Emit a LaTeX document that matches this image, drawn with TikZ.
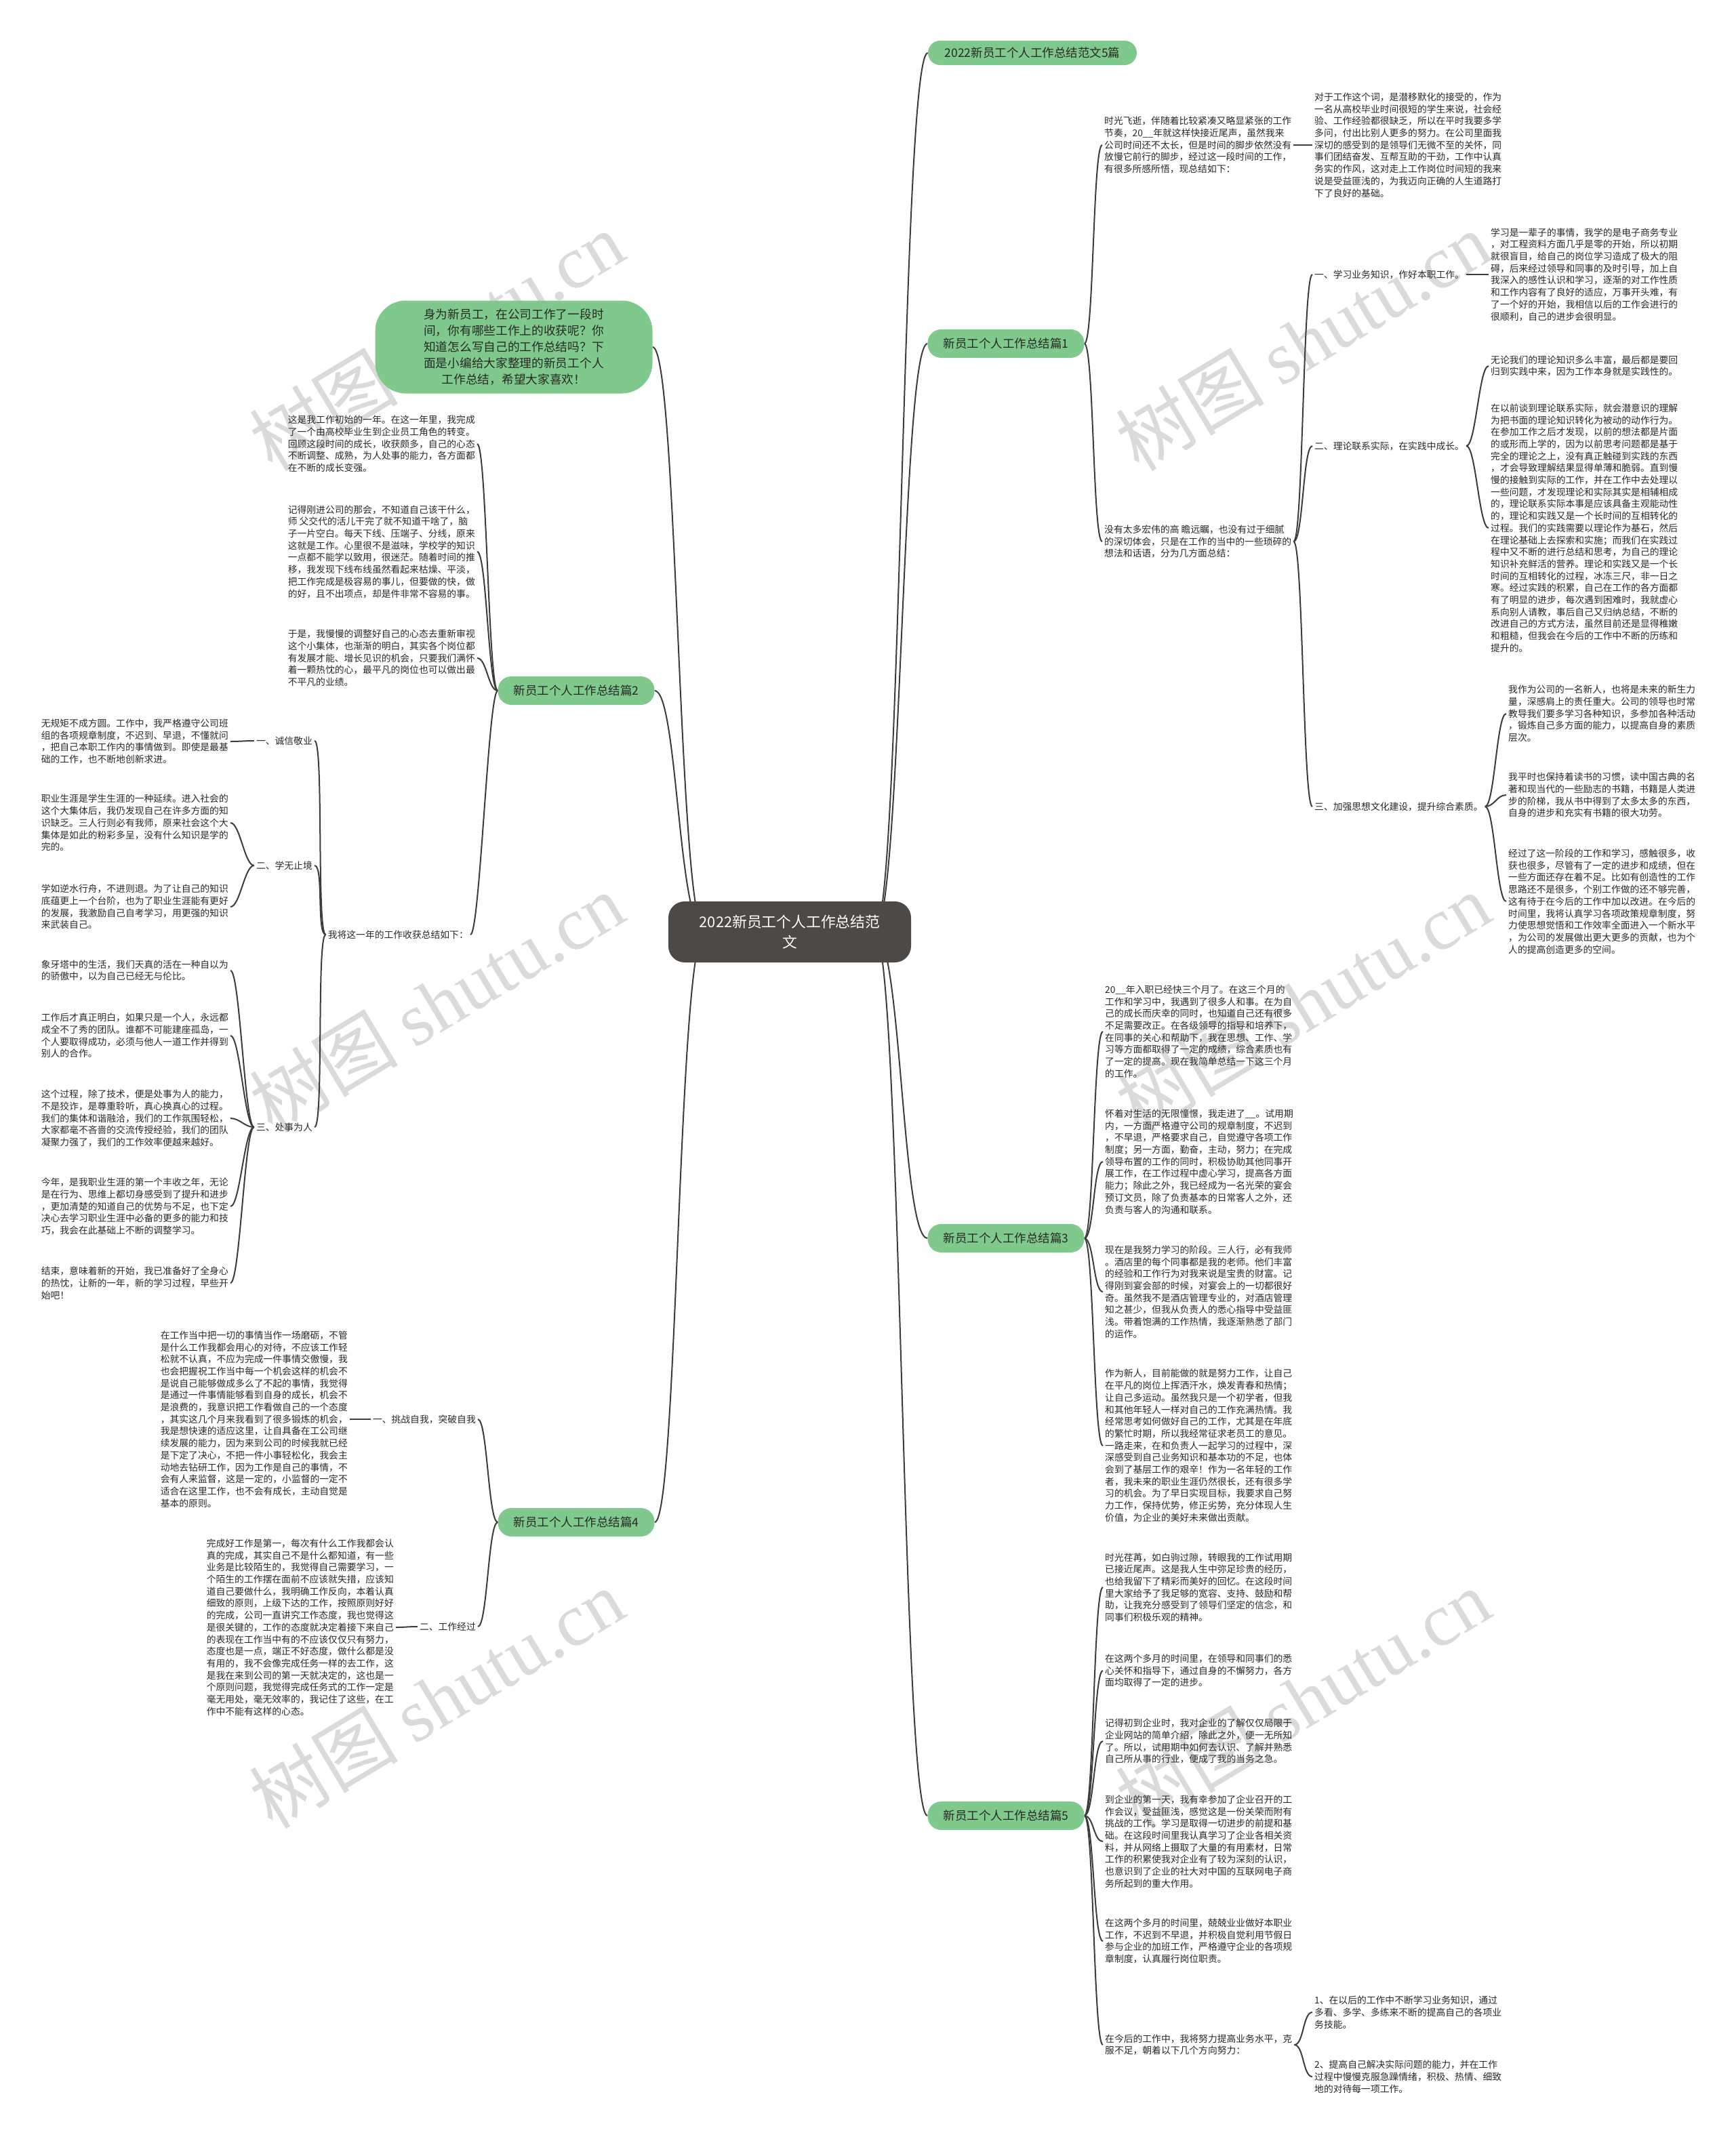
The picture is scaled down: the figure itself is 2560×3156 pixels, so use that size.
\documentclass[tikz,border=0pt]{standalone}
\usepackage{fontspec}
\setmainfont{Noto Sans CJK SC}
\newfontfamily\wmlatin{Liberation Serif}
\definecolor{gr}{RGB}{128,201,141}
\definecolor{dk}{RGB}{77,73,70}
\definecolor{tx}{RGB}{40,40,40}
\definecolor{ln}{RGB}{60,60,60}
\definecolor{wmc}{RGB}{218,218,218}
\pgfdeclarelayer{wm}
\pgfdeclarelayer{bg}
\pgfsetlayers{wm,bg,main}
\newcommand\conR[3][14]{\draw[conn] (#2.east) .. controls +(#1,0) and +(-#1,0) .. (#3.west);}
\newcommand\conL[3][14]{\draw[conn] (#2.west) .. controls +(-#1,0) and +(#1,0) .. (#3.east);}
\begin{document}
\begin{tikzpicture}[x=1pt,y=-1pt,
  txt/.style={font=\fontsize{13.8pt}{17.7pt}\selectfont, align=left, text=tx, inner sep=3pt},
  branch/.style={fill=gr, rounded corners=20pt, minimum height=42pt, minimum width=231pt, inner sep=0pt, font=\fontsize{17.5pt}{22pt}\selectfont, text=tx},
  rootbox/.style={fill=dk, rounded corners=24pt, minimum height=90pt, minimum width=358pt, inner sep=0pt, align=center, font=\fontsize{21.8pt}{30pt}\selectfont, text=white},
  conn/.style={draw=ln, line width=2pt},
  wmark/.style={rotate=31, text=wmc, font=\fontsize{110pt}{110pt}\selectfont, inner sep=0pt}]
\useasboundingbox (0,0) rectangle (2560,3156);
\begin{pgfonlayer}{wm}
\fill[white] (0,0) rectangle (2560,3156);
\foreach \wx/\wy in {644/503, 1922/503, 644/1479, 1922/1479, 644/2506, 1922/2506}
  \node[wmark] at (\wx,\wy) {树图 {\wmlatin shutu.cn}};
\end{pgfonlayer}

% root and branches
\node[rootbox] (root) at (1165,1375) {2022新员工个人工作总结范\\文};
\node[branch, minimum width=308pt, minimum height=36pt, rounded corners=18pt] (ttl) at (1523,78) {2022新员工个人工作总结范文5篇};
\node[branch, minimum width=409pt, minimum height=137pt, rounded corners=45pt, align=center, font=\fontsize{17.7pt}{24pt}\selectfont] (intro) at (758,512) {身为新员工，在公司工作了一段时\\间，你有哪些工作上的收获呢？你\\知道怎么写自己的工作总结吗？下\\面是小编给大家整理的新员工个人\\工作总结，希望大家喜欢！};
\node[branch] (p1) at (1484,507) {新员工个人工作总结篇1};
\node[branch] (p2) at (850,1019) {新员工个人工作总结篇2};
\node[branch] (p3) at (1484,1827) {新员工个人工作总结篇3};
\node[branch] (p4) at (850,2246) {新员工个人工作总结篇4};
\node[branch] (p5) at (1484,2679) {新员工个人工作总结篇5};

% ---------- 篇1 ----------
\node[txt, anchor=west] (p1t1) at (1626,214) {时光飞逝，伴随着比较紧凑又略显紧张的工作\\节奏，20\_\_年就这样快接近尾声，虽然我来\\公司时间还不太长，但是时间的脚步依然没有\\放慢它前行的脚步，经过这一段时间的工作，\\有很多所感所悟，现总结如下：};
\node[txt, anchor=west] (p1t1a) at (1936,214) {对于工作这个词，是潜移默化的接受的，作为\\一名从高校毕业时间很短的学生来说，社会经\\验、工作经验都很缺乏，所以在平时我要多学\\多问，付出比别人更多的努力。在公司里面我\\深切的感受到的是领导们无微不至的关怀，同\\事们团结奋发、互帮互助的干劲，工作中认真\\务实的作风，这对走上工作岗位时间短的我来\\说是受益匪浅的，为我迈向正确的人生道路打\\下了良好的基础。};
\node[txt, anchor=west] (p1t2) at (1626,799) {没有太多宏伟的高 瞻远瞩，也没有过于细腻\\的深切体会，只是在工作的当中的一些琐碎的\\想法和话语，分为几方面总结：};
\node[txt, anchor=west] (p1l1) at (1936,405) {一、学习业务知识，作好本职工作。};
\node[txt, anchor=west] (p1l1t) at (2196,405) {学习是一辈子的事情，我学的是电子商务专业\\，对工程资料方面几乎是零的开始，所以初期\\就很盲目，给自己的岗位学习造成了极大的阻\\碍，后来经过领导和同事的及时引导，加上自\\我深入的感性认识和学习，逐渐的对工作性质\\和工作内容有了良好的适应，万事开头难，有\\了一个好的开始，我相信以后的工作会进行的\\很顺利，自己的进步会很明显。};
\node[txt, anchor=west] (p1l2) at (1936,658) {二、理论联系实际，在实践中成长。};
\node[txt, anchor=west] (p1l2a) at (2196,540) {无论我们的理论知识多么丰富，最后都是要回\\归到实践中来，因为工作本身就是实践性的。};
\node[txt, anchor=west] (p1l2b) at (2196,779) {在以前谈到理论联系实际，就会潜意识的理解\\为把书面的理论知识转化为被动的动作行为。\\在参加工作之后才发现，以前的想法都是片面\\的或形而上学的，因为以前思考问题都是基于\\完全的理论之上，没有真正触碰到实践的东西\\，才会导致理解结果显得单薄和脆弱。直到慢\\慢的接触到实际的工作，并在工作中去处理以\\一些问题，才发现理论和实际其实是相辅相成\\的，理论联系实际本事是应该具备主观能动性\\的，理论和实践又是一个长时间的互相转化的\\过程。我们的实践需要以理论作为基石，然后\\在理论基础上去探索和实施；而我们在实践过\\程中又不断的进行总结和思考，为自己的理论\\知识补充鲜活的营养。理论和实践又是一个长\\时间的互相转化的过程，冰冻三尺，非一日之\\寒。经过实践的积累，自己在工作的各方面都\\有了明显的进步，每次遇到困难时，我就虚心\\系向别人请教，事后自己又归纳总结，不断的\\改进自己的方式方法，虽然目前还是显得稚嫩\\和粗糙，但我会在今后的工作中不断的历练和\\提升的。};
\node[txt, anchor=west] (p1l3) at (1936,1190) {三、加强思想文化建设，提升综合素质。};
\node[txt, anchor=west] (p1l3a) at (2222,1053) {我作为公司的一名新人，也将是未来的新生力\\量，深感肩上的责任重大。公司的领导也时常\\教导我们要多学习各种知识，多参加各种活动\\，锻炼自己多方面的能力，以提高自身的素质\\层次。};
\node[txt, anchor=west] (p1l3b) at (2222,1173) {我平时也保持着读书的习惯，读中国古典的名\\著和现当代的一些励志的书籍，书籍是人类进\\步的阶梯，我从书中得到了太多太多的东西，\\自身的进步和充实有书籍的很大功劳。};
\node[txt, anchor=west] (p1l3c) at (2222,1330) {经过了这一阶段的工作和学习，感触很多，收\\获也很多，尽管有了一定的进步和成绩，但在\\一些方面还存在着不足。比如有创造性的工作\\思路还不是很多，个别工作做的还不够完善，\\这有待于在今后的工作中加以改进。在今后的\\时间里，我将认真学习各项政策规章制度，努\\力使思想觉悟和工作效率全面进入一个新水平\\，为公司的发展做出更大更多的贡献，也为个\\人的提高创造更多的空间。};

% ---------- 篇2 ----------
\node[txt, anchor=east] (p2b1) at (704,655) {这是我工作初始的一年。在这一年里，我完成\\了一个由高校毕业生到企业员工角色的转变。\\回顾这段时间的成长，收获颇多，自己的心态\\不断调整、成熟，为人处事的能力，各方面都\\在不断的成长变强。};
\node[txt, anchor=east] (p2b2) at (704,814) {记得刚进公司的那会，不知道自己该干什么，\\师 父交代的活儿干完了就不知道干啥了，脑\\子一片空白。每天下线、压端子、分线，原来\\这就是工作。心里很不是滋味，学校学的知识\\一点都不能学以致用，很迷茫。随着时间的推\\移，我发现下线布线虽然看起来枯燥、平淡，\\把工作完成是极容易的事儿，但要做的快，做\\的好，且不出项点，却是件非常不容易的事。};
\node[txt, anchor=east] (p2b3) at (704,971) {于是，我慢慢的调整好自己的心态去重新审视\\这个小集体，也渐渐的明白，其实各个岗位都\\有发展才能、增长见识的机会，只要我们满怀\\着一颗热忱的心，最平凡的岗位也可以做出最\\不平凡的业绩。};
\node[txt, anchor=east] (p2l) at (694,1379) {我将这一年的工作收获总结如下：};
\node[txt, anchor=east] (p2l1) at (464,1093) {一、诚信敬业};
\node[txt, anchor=east] (p2l1t) at (340,1094) {无规矩不成方圆。工作中，我严格遵守公司班\\组的各项规章制度，不迟到、早退，不懂就问\\，把自己本职工作内的事情做到。即使是最基\\础的工作，也不断地创新求进。};
\node[txt, anchor=east] (p2l2) at (464,1277) {二、学无止境};
\node[txt, anchor=east] (p2l2a) at (340,1214) {职业生涯是学生生涯的一种延续。进入社会的\\这个大集体后，我仍发现自己在许多方面的知\\识缺乏。三人行则必有我师，原来社会这个大\\集体是如此的粉彩多呈，没有什么知识是学的\\完的。};
\node[txt, anchor=east] (p2l2b) at (340,1338) {学如逆水行舟，不进则退。为了让自己的知识\\底蕴更上一个台阶，也为了职业生涯能有更好\\的发展，我激励自己自考学习，用更强的知识\\来武装自己。};
\node[txt, anchor=east] (p2l3) at (464,1663) {三、处事为人};
\node[txt, anchor=east] (p2l3a) at (340,1432) {象牙塔中的生活，我们天真的活在一种自以为\\的骄傲中，以为自己已经无与伦比。};
\node[txt, anchor=east] (p2l3b) at (340,1528) {工作后才真正明白，如果只是一个人，永远都\\成全不了秀的团队。谁都不可能建座孤岛，一\\个人要取得成功，必须与他人一道工作并得到\\别人的合作。};
\node[txt, anchor=east] (p2l3c) at (340,1650) {这个过程，除了技术，便是处事为人的能力，\\不是狡诈，是尊重聆听，真心换真心的过程。\\我们的集体和谐融洽，我们的工作氛围轻松，\\大家都毫不吝啬的交流传授经验，我们的团队\\凝聚力强了，我们的工作效率便越来越好。};
\node[txt, anchor=east] (p2l3d) at (340,1780) {今年，是我职业生涯的第一个丰收之年，无论\\是在行为、思维上都切身感受到了提升和进步\\，更加清楚的知道自己的优势与不足，也下定\\决心去学习职业生涯中必备的更多的能力和技\\巧，我会在此基础上不断的调整学习。};
\node[txt, anchor=east] (p2l3e) at (340,1893) {结束，意味着新的开始，我已准备好了全身心\\的热忱，让新的一年，新的学习过程，早些开\\始吧！};

% ---------- 篇3 ----------
\node[txt, anchor=west] (p3a) at (1627,1522) {20\_\_年入职已经快三个月了。在这三个月的\\工作和学习中，我遇到了很多人和事。在为自\\己的成长而庆幸的同时，也知道自己还有很多\\不足需要改正。在各级领导的指导和培养下，\\在同事的关心和帮助下，我在思想、工作、学\\习等方面都取得了一定的成绩，综合素质也有\\了一定的提高。现在我简单总结一下这三个月\\的工作。};
\node[txt, anchor=west] (p3b) at (1627,1714) {怀着对生活的无限憧憬，我走进了\_\_。试用期\\内，一方面严格遵守公司的规章制度，不迟到\\，不早退，严格要求自己，自觉遵守各项工作\\制度；另一方面，勤奋，主动，努力；在完成\\领导布置的工作的同时，积极协助其他同事开\\展工作，在工作过程中虚心学习，提高各方面\\能力；除此之外，我已经成为一名光荣的宴会\\预订文员，除了负责基本的日常客人之外，还\\负责与客人的沟通和联系。};
\node[txt, anchor=west] (p3c) at (1627,1906) {现在是我努力学习的阶段。三人行，必有我师\\。酒店里的每个同事都是我的老师。他们丰富\\的经验和工作行为对我来说是宝贵的财富。记\\得刚到宴会部的时候，对宴会上的一切都很好\\奇。虽然我不是酒店管理专业的，对酒店管理\\知之甚少，但我从负责人的悉心指导中受益匪\\浅。带着饱满的工作热情，我逐渐熟悉了部门\\的运作。};
\node[txt, anchor=west] (p3d) at (1627,2133) {作为新人，目前能做的就是努力工作，让自己\\在平凡的岗位上挥洒汗水，焕发青春和热情；\\让自己多运动。虽然我只是一个初学者，但我\\和其他年轻人一样对自己的工作充满热情。我\\经常思考如何做好自己的工作，尤其是在年底\\的繁忙时期，所以我经常征求老员工的意见。\\一路走来，在和负责人一起学习的过程中，深\\深感受到自己业务知识和基本功的不足，也体\\会到了基层工作的艰辛！作为一名年轻的工作\\者，我未来的职业生涯仍然很长，还有很多学\\习的机会。为了早日实现目标，我要求自己努\\力工作，保持优势，修正劣势，充分体现人生\\价值，为企业的美好未来做出贡献。};

% ---------- 篇4 ----------
\node[txt, anchor=east] (p4l1) at (705,2094) {一、挑战自我，突破自我};
\node[txt, anchor=east] (p4l1t) at (516,2094) {在工作当中把一切的事情当作一场磨砺，不管\\是什么工作我都会用心的对待，不应该工作轻\\松就不认真，不应为完成一件事情交傲慢，我\\也会把握祝工作当中每一个机会这样的机会不\\是说自己能够做成多么了不起的事情，我觉得\\是通过一件事情能够看到自身的成长，机会不\\是浪费的，我意识把工作看做自己的一个态度\\，其实这几个月来我看到了很多锻炼的机会，\\我是想快速的适应这里，让自具备在工公司继\\续发展的能力，因为来到公司的时候我就已经\\是下定了决心，不把一件小事轻松化，我会主\\动地去钻研工作，因为工作是自己的事情，不\\会有人来监督，这是一定的，小监督的一定不\\适合在这里工作，也不会有成长，主动自觉是\\基本的原则。};
\node[txt, anchor=east] (p4l2) at (705,2400) {二、工作经过};
\node[txt, anchor=east] (p4l2t) at (584,2401) {完成好工作是第一，每次有什么工作我都会认\\真的完成，其实自己不是什么都知道，有一些\\业务是比较陌生的，我觉得自己需要学习，一\\个陌生的工作摆在面前不应该就失措，应该知\\道自己要做什么，我明确工作反向，本着认真\\细致的原则，上级下达的工作，按照原则好好\\的完成，公司一直讲究工作态度，我也觉得这\\是很关键的，工作的态度就决定着接下来自己\\的表现在工作当中有的不应该仅仅只有努力，\\态度也是一点，端正不好态度，做什么都是没\\有用的，我不会像完成任务一样的去工作，这\\是我在来到公司的第一天就决定的，这也是一\\个原则问题，我觉得完成任务式的工作一定是\\毫无用处，毫无效率的，我记住了这些，在工\\作中不能有这样的心态。};

% ---------- 篇5 ----------
\node[txt, anchor=west] (p5a) at (1627,2342) {时光荏苒，如白驹过隙，转眼我的工作试用期\\已接近尾声。这是我人生中弥足珍贵的经历，\\也给我留下了精彩而美好的回忆。在这段时间\\里大家给予了我足够的宽容、支持、鼓励和帮\\助，让我充分感受到了领导们坚定的信念，和\\同事们积极乐观的精神。};
\node[txt, anchor=west] (p5b) at (1627,2465) {在这两个多月的时间里，在领导和同事们的悉\\心关怀和指导下，通过自身的不懈努力，各方\\面均取得了一定的进步。};
\node[txt, anchor=west] (p5c) at (1627,2569) {记得初到企业时，我对企业的了解仅仅局限于\\企业网站的简单介绍，除此之外，便一无所知\\了。所以，试用期中如何去认识、了解并熟悉\\自己所从事的行业，便成了我的当务之急。};
\node[txt, anchor=west] (p5d) at (1627,2717) {到企业的第一天，我有幸参加了企业召开的工\\作会议，受益匪浅，感觉这是一份关荣而附有\\挑战的工作。学习是取得一切进步的前提和基\\础。在这段时间里我认真学习了企业各相关资\\料，并从网络上摄取了大量的有用素材，日常\\工作的积累使我对企业有了较为深刻的认识，\\也意识到了企业的社大对中国的互联网电子商\\务所起到的重大作用。};
\node[txt, anchor=west] (p5e) at (1627,2864) {在这两个多月的时间里，兢兢业业做好本职业\\工作，不迟到不早退，并积极自觉利用节假日\\参与企业的加班工作，严格遵守企业的各项规\\章制度，认真履行岗位职责。};
\node[txt, anchor=west] (p5f) at (1627,3017) {在今后的工作中，我将努力提高业务水平，克\\服不足，朝着以下几个方向努力：};
\node[txt, anchor=west] (p5f1) at (1936,2969) {1、在以后的工作中不断学习业务知识，通过\\多看、多学、多练来不断的提高自己的各项业\\务技能。};
\node[txt, anchor=west] (p5f2) at (1936,3064) {2、提高自己解决实际问题的能力，并在工作\\过程中慢慢克服急躁情绪，积极、热情、细致\\地的对待每一项工作。};

% ---------- connectors ----------
\begin{pgfonlayer}{bg}
\foreach \b in {ttl,p1,p3,p5}
  \draw[conn] (1290,1375) .. controls (1330,1375) and (1330,0 |- \b.west) .. (\b.west);
\foreach \b in {intro,p2,p4}
  \draw[conn] (1040,1375) .. controls (1000,1375) and (1000,0 |- \b.east) .. (\b.east);
\conR{p1}{p1t1} \conR{p1}{p1t2}
\conR{p1t1}{p1t1a}
\conR{p1t2}{p1l1} \conR{p1t2}{p1l2} \conR{p1t2}{p1l3}
\conR{p1l1}{p1l1t}
\conR{p1l2}{p1l2a} \conR{p1l2}{p1l2b}
\conR{p1l3}{p1l3a} \conR{p1l3}{p1l3b} \conR{p1l3}{p1l3c}
\conL{p2}{p2b1} \conL{p2}{p2b2} \conL{p2}{p2b3} \conL{p2}{p2l}
\conL{p2l}{p2l1} \conL{p2l}{p2l2} \conL{p2l}{p2l3}
\conL{p2l1}{p2l1t}
\conL{p2l2}{p2l2a} \conL{p2l2}{p2l2b}
\conL{p2l3}{p2l3a} \conL{p2l3}{p2l3b} \conL{p2l3}{p2l3c} \conL{p2l3}{p2l3d} \conL{p2l3}{p2l3e}
\conR{p3}{p3a} \conR{p3}{p3b} \conR{p3}{p3c} \conR{p3}{p3d}
\conL{p4}{p4l1} \conL{p4}{p4l2}
\conL{p4l1}{p4l1t} \conL{p4l2}{p4l2t}
\conR{p5}{p5a} \conR{p5}{p5b} \conR{p5}{p5c} \conR{p5}{p5d} \conR{p5}{p5e} \conR{p5}{p5f}
\conR{p5f}{p5f1} \conR{p5f}{p5f2}
\end{pgfonlayer}
\end{tikzpicture}
\end{document}
